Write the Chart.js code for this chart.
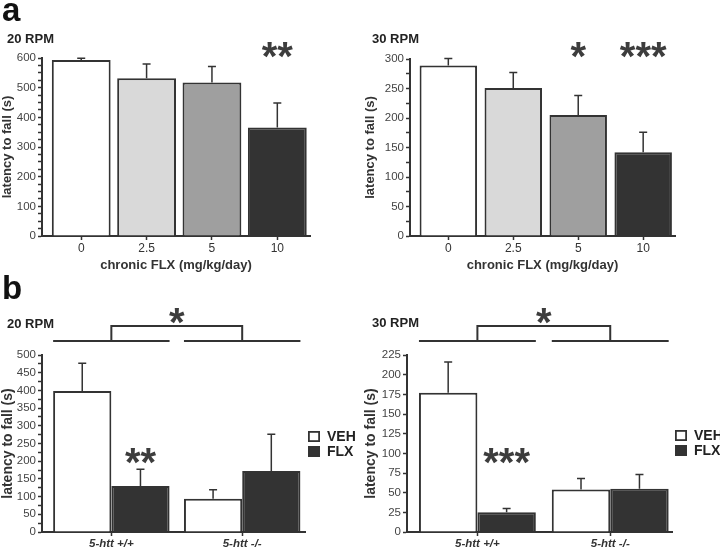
<!DOCTYPE html>
<html>
<head>
<meta charset="utf-8">
<script src="https://cdn.jsdelivr.net/npm/chart.js@4.4.1/dist/chart.umd.min.js"></script>
<style>
  body { margin: 0; background: #fff; width: 720px; height: 549px; position: relative; overflow: hidden; }
  canvas { position: absolute; }
  .letter { position: absolute; z-index: 2; font: bold 33px "Liberation Sans", Arial, sans-serif; line-height: 33px; color: #111; }
</style>
</head>
<body>
<div class="letter" style="left:2px;top:-7px">a</div>
<div class="letter" style="left:2px;top:271px">b</div>
<canvas id="a20" width="360" height="280" style="left:0;top:0"></canvas>
<canvas id="a30" width="360" height="280" style="left:360px;top:0"></canvas>
<canvas id="b20" width="360" height="269" style="left:0;top:280px"></canvas>
<canvas id="b30" width="360" height="269" style="left:360px;top:280px"></canvas>
<script>
// ---------------- DATA ----------------
const doseLabels = ["0", "2.5", "5", "10"];
const rpm20Dose = [593, 532, 517, 366];
const rpm20DoseErr = [6, 48, 54, 82];
const rpm30Dose = [289, 251, 205, 142];
const rpm30DoseErr = [12, 26, 33, 34];

const genoLabels = ["5-htt +/+", "5-htt -/-"];
const rpm20Veh = [398, 94];
const rpm20VehErr = [79, 25];
const rpm20Flx = [130, 172];
const rpm20FlxErr = [47, 104];
const rpm30Veh = [177, 54];
const rpm30VehErr = [39, 14];
const rpm30Flx = [25, 55];
const rpm30FlxErr = [5, 18];

const FONT = '"Liberation Sans", Arial, sans-serif';
const INK = '#333';

// draws text with its glyph box centred on (x, y)
function centredText(ctx, text, x, y) {
  ctx.textAlign = 'center';
  ctx.textBaseline = 'alphabetic';
  const m = ctx.measureText(text);
  ctx.fillText(text, x, y + (m.actualBoundingBoxAscent - m.actualBoundingBoxDescent) / 2);
}

// ---------------- PLUGIN: error bars, stars, bracket, legend ----------------
const extras = {
  id: 'extras',
  afterDatasetsDraw(chart) {
    const ctx = chart.ctx, ys = chart.scales.y;
    ctx.save();
    ctx.strokeStyle = INK;
    ctx.lineWidth = 1.5;
    chart.data.datasets.forEach((ds, di) => {
      chart.getDatasetMeta(di).data.forEach((bar, i) => {
        const top = ys.getPixelForValue(ds.data[i].y + ds.errors[i]);
        ctx.beginPath();
        ctx.moveTo(bar.x, bar.y);
        ctx.lineTo(bar.x, top);
        ctx.moveTo(bar.x - 4, top);
        ctx.lineTo(bar.x + 4, top);
        ctx.stroke();
      });
    });
    ctx.restore();
  },
  afterDraw(chart, args, o) {
    const ctx = chart.ctx, area = chart.chartArea, ys = chart.scales.y;
    ctx.save();

    // panel title
    if (o.title) {
      ctx.fillStyle = '#222';
      ctx.font = 'bold 13px ' + FONT;
      ctx.textAlign = 'left';
      ctx.textBaseline = 'middle';
      ctx.fillText(o.title.text, o.title.x, o.title.y);
    }

    // significance stars
    ctx.fillStyle = '#3d3d3d';
    ctx.font = 'bold ' + o.starSize + 'px ' + FONT;
    (o.stars || []).forEach(s => {
      const bar = chart.getDatasetMeta(s.ds).data[s.i];
      centredText(ctx, s.text, bar.x, ys.getPixelForValue(s.y));
    });

    // bracket over the genotype groups
    if (o.bracket) {
      const m0 = chart.getDatasetMeta(0), m1 = chart.getDatasetMeta(1);
      const lineY = area.top - o.bracket.lineOff;
      const topY = area.top - o.bracket.topOff;
      const c0 = chart.scales.x.getPixelForValue(0);
      const c1 = chart.scales.x.getPixelForValue(1);
      ctx.strokeStyle = INK;
      ctx.lineWidth = 2;
      ctx.beginPath();
      [0, 1].forEach(i => {
        const a = m0.data[i], b = m1.data[i];
        ctx.moveTo(a.x - a.width / 2, lineY);
        ctx.lineTo(b.x + b.width / 2, lineY);
      });
      ctx.moveTo(c0, lineY);
      ctx.lineTo(c0, topY);
      ctx.lineTo(c1, topY);
      ctx.lineTo(c1, lineY);
      ctx.stroke();
      centredText(ctx, o.bracket.text, (c0 + c1) / 2, topY - o.bracket.gap);
    }

    // legend
    if (o.legend) {
      chart.data.datasets.forEach((ds, di) => {
        const x = area.right + o.legend.dx;
        const y = area.top + o.legend.dy + di * 15;
        ctx.fillStyle = ds.backgroundColor;
        ctx.fillRect(x, y, 12, 11);
        ctx.strokeStyle = INK;
        ctx.lineWidth = 1.8;
        ctx.strokeRect(x + 0.9, y + 0.9, 10.2, 9.2);
        ctx.fillStyle = '#222';
        ctx.font = 'bold 14px ' + FONT;
        ctx.textAlign = 'left';
        ctx.textBaseline = 'middle';
        ctx.fillText(ds.label, x + 19, y + 6);
      });
    }
    ctx.restore();
  }
};

// ---------------- SCALES ----------------
function yAxis(max, step, every, width, titleSize, titlePad) {
  return {
    min: 0, max: max,
    afterFit: s => { s.width = width; },
    border: { display: true, color: INK, width: 2 },
    grid: { drawOnChartArea: false, drawTicks: true, tickLength: 4, tickColor: INK, tickWidth: 1.5 },
    ticks: {
      stepSize: step, autoSkip: false, padding: 2, color: '#444',
      font: { family: FONT, size: 11.5 },
      callback: v => (v % every === 0 ? v : '')
    },
    title: {
      display: true, text: 'latency to fall (s)', color: INK,
      font: { family: FONT, size: titleSize, weight: 'bold' },
      padding: { top: titlePad, bottom: 0 }
    }
  };
}

function xAxis(labels, min, max, height, title, tickFont) {
  return {
    type: 'linear', min: min, max: max, offset: false,
    afterFit: s => { s.height = height; },
    border: { display: true, color: INK, width: 2 },
    grid: { offset: false, drawOnChartArea: false, drawTicks: true, tickLength: 4, tickColor: INK, tickWidth: 1.5 },
    ticks: {
      stepSize: 1, autoSkip: false, includeBounds: false, maxRotation: 0, padding: 1,
      color: '#333', font: tickFont,
      callback: v => (labels[v] !== undefined ? labels[v] : '')
    },
    title: title
      ? { display: true, text: title, color: INK, font: { family: FONT, size: 13, weight: 'bold' }, padding: { top: 0, bottom: 7 } }
      : { display: false }
  };
}

const pts = arr => arr.map((v, i) => ({ x: i, y: v }));

// ---------------- PANEL a ----------------
function doseChart(id, values, errs, yMax, yStep, yEvery, yWidth, titlePad, xMin, xMax, padRight, padTop, barPct, opts) {
  return new Chart(document.getElementById(id), {
    type: 'bar',
    data: {
      datasets: [{
        data: pts(values),
        errors: errs,
        backgroundColor: ['#ffffff', '#d9d9d9', '#9f9f9f', '#333333'],
        borderColor: INK,
        borderWidth: 2,
        barPercentage: barPct,
        categoryPercentage: 1
      }]
    },
    options: {
      responsive: false,
      animation: false,
      devicePixelRatio: 1,
      layout: { padding: { top: padTop, right: padRight, left: 0, bottom: 0 } },
      plugins: { legend: { display: false }, tooltip: { enabled: false }, extras: opts },
      scales: {
        x: xAxis(doseLabels, xMin, xMax, 44, 'chronic FLX (mg/kg/day)', { family: FONT, size: 12 }),
        y: yAxis(yMax, yStep, yEvery, yWidth, 13, titlePad)
      }
    },
    plugins: [extras]
  });
}

doseChart('a20', rpm20Dose, rpm20DoseErr, 600, 25, 100, 42, 0, -0.6, 3.5, 50, 58, 0.9, {
  title: { text: '20 RPM', x: 7, y: 39 },
  starSize: 40,
  stars: [{ ds: 0, i: 3, y: 627, text: '**' }]
});

doseChart('a30', rpm30Dose, rpm30DoseErr, 300, 25, 50, 50, 3, -0.59, 3.49, 45, 59, 0.885, {
  title: { text: '30 RPM', x: 12, y: 39 },
  starSize: 40,
  stars: [{ ds: 0, i: 2, y: 315, text: '*' }, { ds: 0, i: 3, y: 315, text: '***' }]
});

// ---------------- PANEL b ----------------
function genoChart(id, veh, vehErr, flx, flxErr, yMax, yStep, yEvery, yWidth, titlePad, xMin, xMax, padRight, catPct, opts) {
  return new Chart(document.getElementById(id), {
    type: 'bar',
    data: {
      datasets: [
        { label: 'VEH', data: pts(veh), errors: vehErr, backgroundColor: '#ffffff', borderColor: INK, borderWidth: 2, barPercentage: 1, categoryPercentage: catPct },
        { label: 'FLX', data: pts(flx), errors: flxErr, backgroundColor: '#333333', borderColor: INK, borderWidth: 2, barPercentage: 1, categoryPercentage: catPct }
      ]
    },
    options: {
      responsive: false,
      animation: false,
      devicePixelRatio: 1,
      layout: { padding: { top: 75, right: padRight, left: 0, bottom: 0 } },
      plugins: { legend: { display: false }, tooltip: { enabled: false }, extras: opts },
      scales: {
        x: xAxis(genoLabels, xMin, xMax, 17, null, { family: FONT, size: 11.5, weight: 'bold', style: 'italic' }),
        y: yAxis(yMax, yStep, yEvery, yWidth, 14, titlePad)
      }
    },
    plugins: [extras]
  });
}

genoChart('b20', rpm20Veh, rpm20VehErr, rpm20Flx, rpm20FlxErr, 500, 25, 50, 42, 0, -0.53, 1.48, 55, 0.89, {
  title: { text: '20 RPM', x: 7, y: 44 },
  starSize: 40,
  stars: [{ ds: 1, i: 0, y: 215, text: '**' }],
  bracket: { lineOff: 14, topOff: 29, gap: 10.5, text: '*' },
  legend: { dx: 3, dy: 76 }
});

genoChart('b30', rpm30Veh, rpm30VehErr, rpm30Flx, rpm30FlxErr, 225, 25, 25, 47, 3, -0.53, 1.465, 48, 0.88, {
  title: { text: '30 RPM', x: 12, y: 43 },
  starSize: 40,
  stars: [{ ds: 1, i: 0, y: 97, text: '***' }],
  bracket: { lineOff: 14, topOff: 29, gap: 10.5, text: '*' },
  legend: { dx: 3, dy: 75 }
});
</script>
</body>
</html>
